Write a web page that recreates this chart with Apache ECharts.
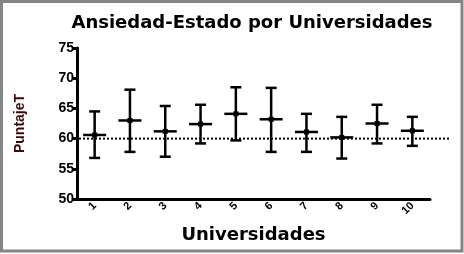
<!DOCTYPE html>
<html>
<head>
<meta charset="utf-8">
<script src="https://cdn.jsdelivr.net/npm/echarts@6/dist/echarts.min.js"></script>
<style>html,body{margin:0;padding:0;background:#fff}#c{width:464px;height:254px}</style>
</head>
<body>
<div id="c"></div>
<script>
var categories = ['1','2','3','4','5','6','7','8','9','10'];
var means = [60.6, 63.0, 61.2, 62.4, 64.1, 63.2, 61.1, 60.2, 62.5, 61.3];
var upper = [64.5, 68.1, 65.4, 65.6, 68.5, 68.4, 64.1, 63.6, 65.6, 63.6];
var lower = [56.8, 57.8, 57.0, 59.2, 59.7, 57.8, 57.8, 56.7, 59.2, 58.8];
var refValue = 60;
var yTicks = [50, 55, 60, 65, 70, 75];

var chart = echarts.init(document.getElementById('c'), null, {renderer: 'canvas'});
var errData = categories.map(function (c, i) { return [i, lower[i], upper[i], means[i]]; });

chart.setOption({
  animation: false,
  backgroundColor: '#fff',
  title: {
    text: 'Ansiedad-Estado por Universidades',
    left: 247, top: 9, textAlign: 'center',
    textStyle: {fontFamily: 'DejaVu Sans', fontWeight: 'bold', fontSize: 18, color: '#000'}
  },
  graphic: [{
    type: 'rect', silent: true, z: 100,
    shape: {x: 1.5, y: 1.5, width: 460.5, height: 249.5},
    style: {fill: 'none', stroke: '#858585', lineWidth: 3}
  }],
  grid: {left: 77, right: 34, top: 48, bottom: 55},
  xAxis: {
    type: 'category', data: categories,
    name: 'Universidades', nameLocation: 'middle', nameGap: 27,
    nameTextStyle: {fontFamily: 'DejaVu Sans', fontWeight: 'bold', fontSize: 18, color: '#000'},
    axisLine: {lineStyle: {color: '#000', width: 3}},
    axisTick: {alignWithLabel: true, length: 4, lineStyle: {color: '#000', width: 3}},
    axisLabel: {rotate: 45, fontFamily: 'Liberation Sans', fontWeight: 'bold', fontSize: 11, color: '#000', margin: 5},
    splitLine: {show: false}
  },
  yAxis: {
    type: 'value', min: yTicks[0], max: yTicks[yTicks.length - 1], interval: 5,
    name: 'PuntajeT', nameLocation: 'middle', nameGap: 50,
    nameTextStyle: {fontFamily: 'Liberation Sans', fontWeight: 'bold', fontSize: 14, color: '#3a0808'},
    axisLine: {show: true, lineStyle: {color: '#000', width: 3}},
    axisTick: {show: true, length: 4, lineStyle: {color: '#000', width: 3}},
    axisLabel: {fontFamily: 'Liberation Sans', fontWeight: 'bold', fontSize: 14, color: '#000', margin: 3},
    splitLine: {show: false}
  },
  series: [{
    type: 'custom',
    clip: false,
    data: [[0, refValue]],
    z: 1,
    renderItem: function (params, api) {
      var y = api.coord([0, api.value(1)])[1];
      var cs = params.coordSys;
      return {
        type: 'line',
        shape: {x1: cs.x + 2, y1: y, x2: cs.x + cs.width + 20, y2: y},
        style: {stroke: '#000', lineWidth: 2, lineDash: [2, 2]}
      };
    }
  }, {
    type: 'custom',
    data: errData,
    z: 5,
    renderItem: function (params, api) {
      var x = api.value(0);
      var lo = api.coord([x, api.value(1)]);
      var hi = api.coord([x, api.value(2)]);
      var m = api.coord([x, api.value(3)]);
      var st = {stroke: '#000', lineWidth: 2.5};
      var capW = 5.5, meanW = 11.5;
      return {
        type: 'group',
        children: [
          {type: 'line', shape: {x1: hi[0], y1: hi[1], x2: lo[0], y2: lo[1]}, style: st},
          {type: 'line', shape: {x1: hi[0] - capW, y1: hi[1], x2: hi[0] + capW, y2: hi[1]}, style: st},
          {type: 'line', shape: {x1: lo[0] - capW, y1: lo[1], x2: lo[0] + capW, y2: lo[1]}, style: st},
          {type: 'line', shape: {x1: m[0] - meanW, y1: m[1], x2: m[0] + meanW, y2: m[1]}, style: st},
          {type: 'rect', shape: {x: m[0] - 2.5, y: m[1] - 2.5, width: 5, height: 5}, style: {fill: '#000'}}
        ]
      };
    }
  }]
});
</script>
</body>
</html>
